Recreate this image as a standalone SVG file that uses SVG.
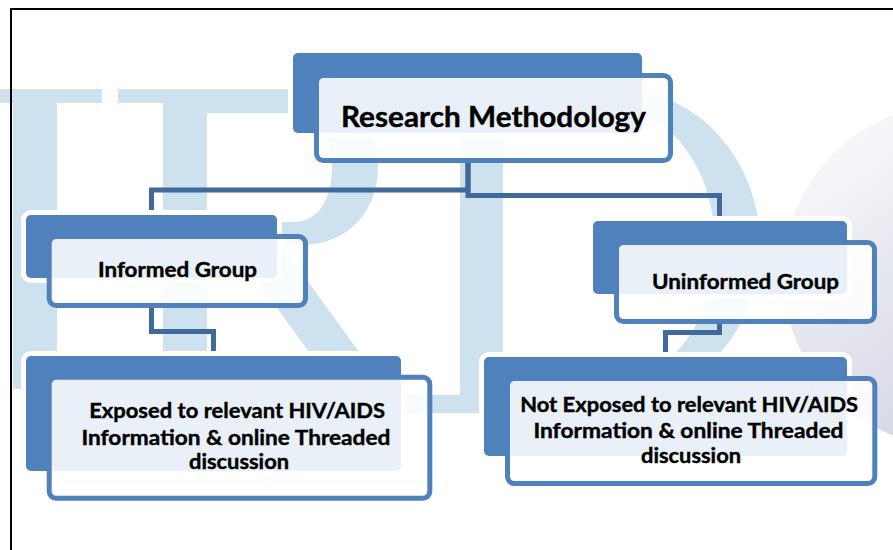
<svg xmlns="http://www.w3.org/2000/svg" width="893" height="550" viewBox="0 0 893 550">
  <defs>
    <linearGradient id="globeGrad" x1="0.1" y1="0.05" x2="0.7" y2="0.9">
      <stop offset="0" stop-color="#fbfbfd"/>
      <stop offset="0.45" stop-color="#e7e7f0"/>
      <stop offset="1" stop-color="#d2d3e3"/>
    </linearGradient>
    <style>
      .wm { fill: #cde2ee; }
      .back { fill: #4f81bd; stroke: #ffffff; stroke-width: 10; paint-order: stroke; }
      .front { fill: #ffffff; fill-opacity: 0.88; stroke: #4f81bd; stroke-width: 5; }
      .conn { fill: none; stroke: #41699b; stroke-width: 5; stroke-linejoin: miter; }
      .lbl { font-family: Lato, "Open Sans", "Liberation Sans", sans-serif; font-weight: bold; fill: #000000; stroke: #000000; stroke-width: 0.4; text-anchor: middle; }
    </style>
  </defs>
  <rect x="0" y="0" width="893" height="550" fill="#ffffff"/>

  <g id="watermark" class="wm">
    <rect x="-40" y="89" width="142" height="14"/>
    <rect x="13" y="89" width="44" height="300"/>
    <rect x="118" y="89" width="100" height="14"/>
    <rect x="163" y="89" width="44" height="300"/>
    <path fill-rule="evenodd" d="M 207 89 H 300 C 348 89 378 122 378 166 C 378 212 348 245 300 245 H 207 Z M 207 113 H 293 C 318 113 332 135 332 166 C 332 200 318 222 293 222 H 207 Z"/>
    <polygon points="228,240 278,240 372,370 322,370"/>
    <rect x="460" y="88" width="43" height="325"/>
    <path fill-rule="evenodd" d="M 503 90 H 620 A 140 155 0 0 1 620 400 H 503 Z M 503 112 H 620 A 95 133 0 0 1 620 378 H 503 Z"/>
    <rect x="400" y="395" width="150" height="18"/>
  </g>

  <g id="globe">
    <circle cx="955" cy="275" r="172" fill="url(#globeGrad)"/>
  </g>

  <g id="frame" stroke="#000000" stroke-width="2">
    <line x1="10" y1="9" x2="893" y2="9"/>
    <line x1="11" y1="8" x2="11" y2="550"/>
  </g>

  <g id="connectors" class="conn">
    <path d="M 468 160 V 190 H 151.5 V 214"/>
    <path d="M 468 160 V 195.5 H 719.5 V 222"/>
    <path d="M 151.5 304 V 331.5 H 213.5 V 357"/>
    <path d="M 719.5 320 V 332.5 H 665.5 V 358"/>
  </g>

  <g id="node-research">
    <rect class="back" x="293" y="53" width="349" height="80" rx="5"/>
    <rect class="front" x="316.5" y="75.5" width="354" height="85" rx="7"/>
    <text class="lbl" x="493.5" y="127" font-size="28" textLength="305" lengthAdjust="spacingAndGlyphs">Research Methodology</text>
  </g>

  <g id="node-informed">
    <rect class="back" x="26" y="215" width="251" height="63" rx="5"/>
    <rect class="front" x="49.2" y="236.5" width="256.3" height="69" rx="7"/>
    <text class="lbl" x="177.5" y="277" font-size="20" textLength="159" lengthAdjust="spacingAndGlyphs">Informed Group</text>
  </g>

  <g id="node-uninformed">
    <rect class="back" x="593" y="221" width="254" height="73" rx="5"/>
    <rect class="front" x="616.5" y="242.5" width="258" height="79" rx="7"/>
    <text class="lbl" x="745.5" y="289" font-size="21" textLength="187" lengthAdjust="spacingAndGlyphs">Uninformed Group</text>
  </g>

  <g id="node-exposed">
    <rect class="back" x="26" y="356" width="375" height="115" rx="5"/>
    <rect class="front" x="49.2" y="377.2" width="380.6" height="121" rx="7"/>
    <text class="lbl" font-size="21">
      <tspan x="239.7" y="418.3" textLength="296" lengthAdjust="spacingAndGlyphs">Exposed to relevant HIV/AIDS</tspan>
      <tspan x="238.5" y="445" textLength="309" lengthAdjust="spacingAndGlyphs">Information &amp; online Threaded</tspan>
      <tspan x="239" y="469.3" textLength="100" lengthAdjust="spacingAndGlyphs">discussion</tspan>
    </text>
  </g>

  <g id="node-not-exposed">
    <rect class="back" x="484" y="357" width="363" height="99" rx="5"/>
    <rect class="front" x="507.5" y="378.5" width="367.3" height="105" rx="7"/>
    <text class="lbl" font-size="21">
      <tspan x="691.7" y="411.7" textLength="338" lengthAdjust="spacingAndGlyphs">Not Exposed to relevant HIV/AIDS</tspan>
      <tspan x="691" y="437.7" textLength="310" lengthAdjust="spacingAndGlyphs">Information &amp; online Threaded</tspan>
      <tspan x="691" y="463.3" textLength="100" lengthAdjust="spacingAndGlyphs">discussion</tspan>
    </text>
  </g>
</svg>
